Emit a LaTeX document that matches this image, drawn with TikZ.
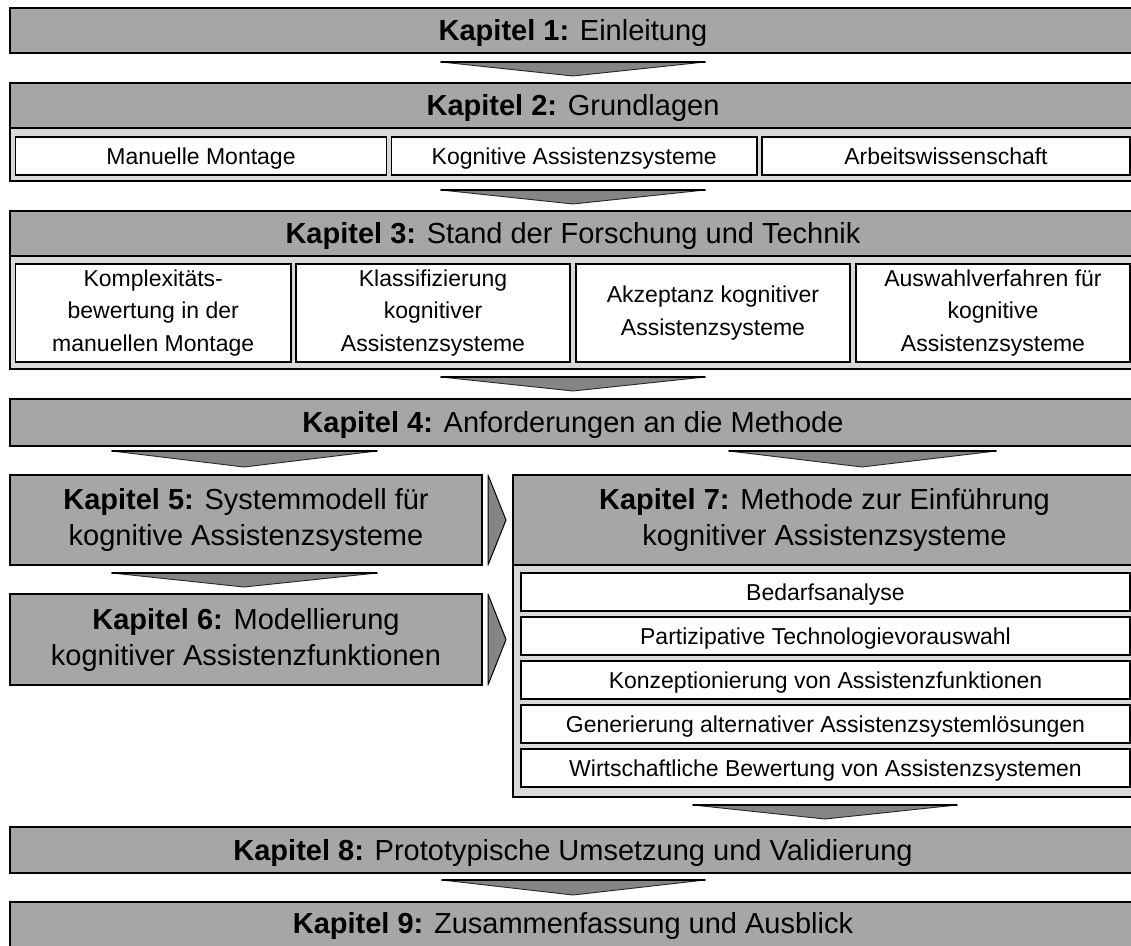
\documentclass[tikz,border=0pt]{standalone}
\usepackage{fontspec}
\setmainfont{Liberation Sans}

\definecolor{hdr}{HTML}{A6A6A6}
\definecolor{pane}{HTML}{D9D9D9}
\definecolor{arr}{HTML}{858585}

\tikzset{
  hdrbox/.style={draw=black, line width=1.6pt, fill=hdr, inner sep=0pt,
    align=center, font=\fontsize{29}{36}\selectfont},
  hdrline/.style={hdrbox, text height=20.8pt, text depth=0pt},
  panebox/.style={draw=black, line width=1.6pt, fill=pane, inner sep=0pt},
  itembox/.style={draw=black, line width=1.4pt, fill=white, inner sep=0pt,
    align=center, font=\fontsize{23}{32.5}\selectfont},
  itemline/.style={itembox, text height=16.5pt, text depth=0pt},
  flowfill/.style={fill=arr},
  flowedge/.style={draw=black!85, line width=0.9pt, line join=round},
  flowtop/.style={draw=black, line width=1.8pt, line cap=round},
}

% box from corner (x1,y1) to corner (x2,y2): style, name, x1, y1, x2, y2, text
\newcommand\cornerbox[7]{%
  \node[#1, minimum width={#5-#3}, minimum height={#6-#4}] (#2)
    at ({(#3+#5)/2},{(#4+#6)/2}) {#7};
}
% flat down-pointing arrow: left x, right x, apex x, top y, apex y
\newcommand\downflow[5]{%
  \fill[flowfill] (#1,#4) -- (#2,#4) -- (#3,#5) -- cycle;
  \draw[flowedge] (#1,#4) -- (#3,#5) -- (#2,#4);
  \draw[flowtop] (#1,#4) -- (#2,#4);
}
% right-pointing arrow: left x, tip x, top y, bottom y
\newcommand\rightflow[4]{%
  \filldraw[fill=arr, draw=black, line width=1pt, line join=round]
    (#1,#3) -- (#2,{(#3+#4)/2}) -- (#1,#4) -- cycle;
}

\begin{document}
\begin{tikzpicture}[x=1pt,y=-1pt]
\clip (0,0) rectangle (1131,945);
\fill[white] (0,0) rectangle (1131,945);

% Kapitel 1
\cornerbox{hdrline}{k1}{10}{8}{1136}{53}{\textbf{Kapitel 1:} Einleitung}
\downflow{441}{705}{573}{62}{76}

% Kapitel 2
\cornerbox{panebox}{k2pane}{10}{128}{1136}{181}{}
\cornerbox{hdrline}{k2}{10}{83}{1136}{128}{\textbf{Kapitel 2:} Grundlagen}
\cornerbox{itemline}{k2a}{15.5}{137}{386.5}{175}{Manuelle Montage}
\cornerbox{itemline}{k2b}{391.5}{137}{757}{175}{Kognitive Assistenzsysteme}
\cornerbox{itemline}{k2c}{762}{137}{1130}{175}{Arbeitswissenschaft}
\downflow{441}{705}{573}{190}{204}

% Kapitel 3
\cornerbox{panebox}{k3pane}{10}{256}{1136}{369}{}
\cornerbox{hdrline}{k3}{10}{211}{1136}{256}{\textbf{Kapitel 3:} Stand der Forschung und Technik}
\cornerbox{itembox}{k3a}{15.5}{264}{291}{362}{Komplexitäts-\\bewertung in der\\manuellen Montage}
\cornerbox{itembox}{k3b}{296}{264}{570}{362}{Klassifizierung\\kognitiver\\Assistenzsysteme}
\cornerbox{itembox}{k3c}{576}{264}{850}{362}{Akzeptanz kognitiver\\Assistenzsysteme}
\cornerbox{itembox}{k3d}{856}{264}{1130}{362}{Auswahlverfahren für\\kognitive\\Assistenzsysteme}
\downflow{441}{705}{573}{377}{391}

% Kapitel 4
\cornerbox{hdrline}{k4}{10}{399}{1136}{446}{\textbf{Kapitel 4:} Anforderungen an die Methode}
\downflow{112}{377}{244}{451}{467}
\downflow{729}{996}{862}{451}{467}

% Kapitel 5 and 6
\cornerbox{hdrbox}{k5}{10}{475}{482}{565}{\textbf{Kapitel 5:} Systemmodell für\\kognitive Assistenzsysteme}
\downflow{112}{377}{244}{573}{587}
\cornerbox{hdrbox}{k6}{10}{594}{482}{685}{\textbf{Kapitel 6:} Modellierung\\kognitiver Assistenzfunktionen}
\rightflow{488}{506}{475}{565}
\rightflow{488}{506}{594}{685}

% Kapitel 7
\cornerbox{panebox}{k7pane}{513}{565}{1136}{797}{}
\cornerbox{hdrbox}{k7}{513}{475}{1136}{565}{\textbf{Kapitel 7:} Methode zur Einführung\\kognitiver Assistenzsysteme}
\cornerbox{itemline}{k7a}{521}{573}{1130}{611}{Bedarfsanalyse}
\cornerbox{itemline}{k7b}{521}{617}{1130}{655}{Partizipative Technologievorauswahl}
\cornerbox{itemline}{k7c}{521}{661}{1130}{699}{Konzeptionierung von Assistenzfunktionen}
\cornerbox{itemline}{k7d}{521}{705}{1130}{743}{Generierung alternativer Assistenzsystemlösungen}
\cornerbox{itemline}{k7e}{521}{749}{1130}{787}{Wirtschaftliche Bewertung von Assistenzsystemen}
\downflow{693}{957}{825}{805}{819}

% Kapitel 8 and 9
\cornerbox{hdrline}{k8}{10}{827}{1136}{873}{\textbf{Kapitel 8:} Prototypische Umsetzung und Validierung}
\downflow{442}{705}{573}{880}{895}
\cornerbox{hdrbox}{k9}{10}{902}{1136}{970}{}
\node[font=\fontsize{29}{36}\selectfont, inner sep=0pt, text height=20.8pt, text depth=0pt]
  (k9t) at (573,923) {\textbf{Kapitel 9:} Zusammenfassung und Ausblick};
\end{tikzpicture}
\end{document}
